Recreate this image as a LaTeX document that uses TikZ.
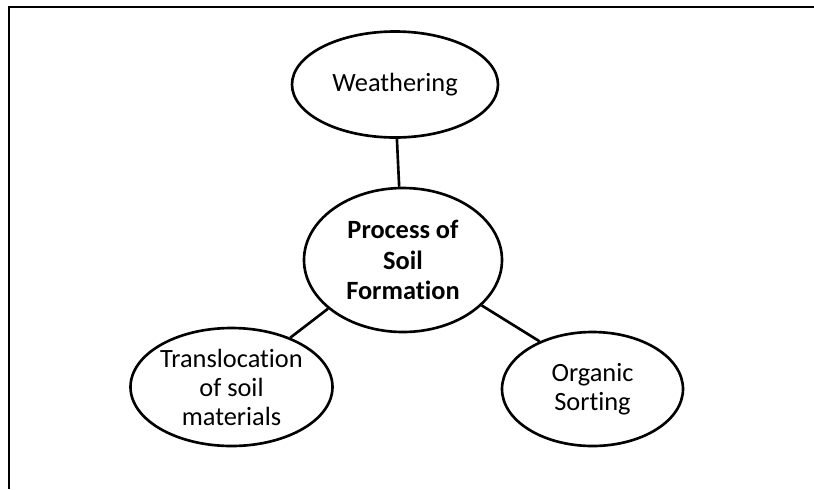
\documentclass[tikz,border=0pt]{standalone}
\usepackage{fontspec}
\setmainfont{Carlito}[Ligatures=NoCommon]
\usetikzlibrary{shapes.geometric}

\begin{document}
\begin{tikzpicture}[
    bubble/.style={ellipse, draw=black, line width=1.5pt, inner sep=0pt, align=center,
      font=\fontsize{15}{16.5}\selectfont},
    link/.style={line width=1.5pt}
  ]
          \useasboundingbox (0,0) rectangle (16.28,-9.78);
          \draw[line width=1.6pt] (0.18,-9.78) -- (0.18,-0.14) -- (16.28,-0.14);

          \node[bubble, minimum width=4.12cm, minimum height=2.12cm]
            (wea) at (7.9,-1.69) {Weathering};
          \node[bubble, minimum width=3.96cm, minimum height=2.88cm, font=\fontsize{15}{17.5}\selectfont\bfseries]
            (proc) at (8.06,-5.2) {Process of\\Soil\\Formation};
          \node[bubble, minimum width=4.04cm, minimum height=2.36cm]
            (trans) at (4.63,-7.74) {Translocation\\of soil\\materials};
          \node[bubble, minimum width=3.62cm, minimum height=2.28cm]
            (org) at (11.85,-7.78) {Organic\\Sorting};

          \draw[link] (wea.-88) -- (proc.93);
          \draw[link] (proc.213) -- (trans.40);
          \draw[link] (proc.-30) -- (org.138);
        \end{tikzpicture}
\end{document}
